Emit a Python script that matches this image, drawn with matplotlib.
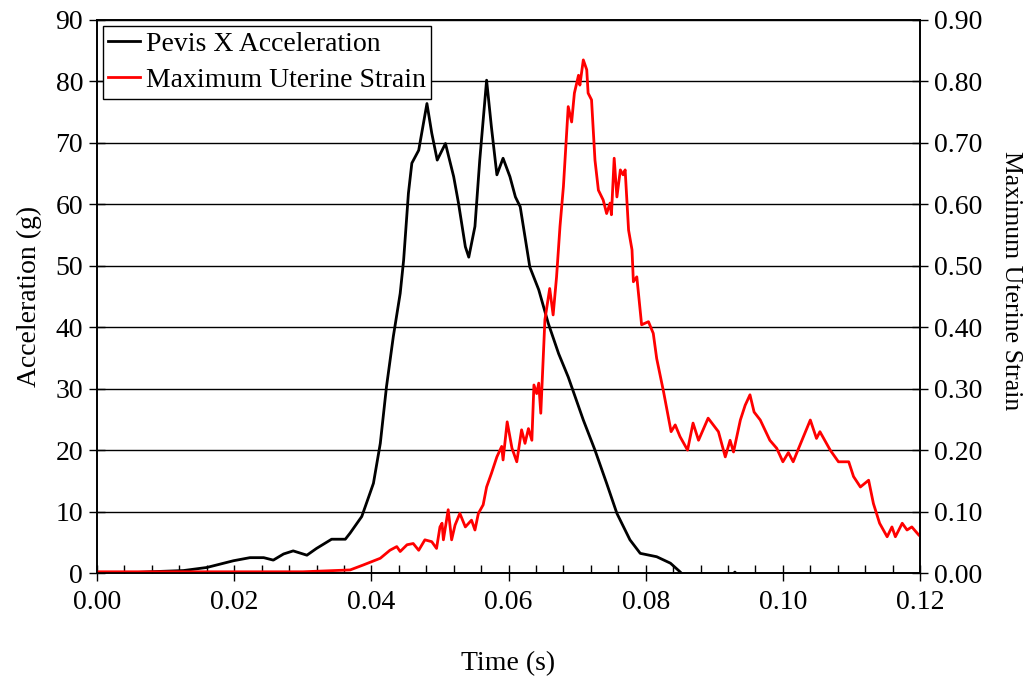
import matplotlib
matplotlib.use("Agg")
import matplotlib.pyplot as plt
from matplotlib.ticker import MultipleLocator, FormatStrFormatter

plt.rcParams['font.family'] = ['Liberation Serif', 'DejaVu Serif']

# Pelvis X acceleration (g) vs time (s)
accel_t = [0.0, 0.006, 0.0077, 0.0126, 0.016, 0.0199, 0.0223, 0.0243, 0.0257, 0.0272,
           0.0286, 0.0306, 0.0320, 0.0342, 0.0362, 0.0369, 0.0386, 0.0398, 0.0403, 0.0413,
           0.0422, 0.0432, 0.0442, 0.0447, 0.0454, 0.0459, 0.0469, 0.0481, 0.0488, 0.0496,
           0.0508, 0.0520, 0.0527, 0.0537, 0.0542, 0.0551, 0.0558, 0.0568, 0.0575, 0.0583,
           0.0592, 0.0602, 0.0610, 0.0617, 0.0631, 0.0644, 0.0658, 0.0673, 0.0687, 0.0709,
           0.0726, 0.0743, 0.0758, 0.0777, 0.0792, 0.0816, 0.0836, 0.0850, 0.0856, 0.0925,
           0.0930, 0.0935, 0.1200]
accel_g = [0.1, 0.1, 0.2, 0.4, 0.9, 2.0, 2.5, 2.5, 2.1, 3.1,
           3.6, 2.9, 4.0, 5.5, 5.5, 6.5, 9.2, 13.0, 14.6, 21.1,
           30.3, 38.5, 45.5, 50.9, 61.8, 66.7, 68.8, 76.4, 71.6, 67.2,
           69.9, 64.5, 60.2, 53.1, 51.4, 56.4, 67.2, 80.2, 72.6, 64.8,
           67.5, 64.5, 61.2, 59.6, 49.8, 46.1, 40.6, 35.7, 31.9, 24.9,
           20.0, 14.6, 9.7, 5.4, 3.2, 2.65, 1.6, 0.2, -0.5, -0.5,
           0.15, -0.5, -0.5]

# Maximum uterine strain vs time (s)
strain_t = [0.0, 0.030, 0.0369, 0.0388, 0.0413, 0.0427, 0.0437, 0.0442, 0.0452, 0.0461,
            0.0469, 0.0478, 0.0488, 0.0495, 0.0500, 0.0503, 0.0505, 0.0512, 0.0517, 0.0522,
            0.0529, 0.0537, 0.0546, 0.0551, 0.0556, 0.0563, 0.0568, 0.0575, 0.0583, 0.0590,
            0.0592, 0.0598, 0.0605, 0.0612, 0.0619, 0.0624, 0.0629, 0.0634, 0.0637, 0.0641,
            0.0644, 0.0647, 0.0653, 0.0660, 0.0665, 0.0670, 0.0675, 0.0680, 0.0687, 0.0692,
            0.0696, 0.0702, 0.0704, 0.0709, 0.0714, 0.0716, 0.0721, 0.0726, 0.0731, 0.0738,
            0.0743, 0.0748, 0.0750, 0.0754, 0.0758, 0.0763, 0.0767, 0.0770, 0.0775, 0.0780,
            0.0782, 0.0787, 0.0794, 0.0804, 0.0811, 0.0816, 0.0826, 0.0837, 0.0843, 0.0850,
            0.0861, 0.0869, 0.0877, 0.0891, 0.0906, 0.0916, 0.0923, 0.0928, 0.0938, 0.0945,
            0.0952, 0.0958, 0.0967, 0.0981, 0.0991, 0.1000, 0.1008, 0.1015, 0.1023, 0.1030,
            0.1040, 0.1049, 0.1054, 0.1069, 0.1081, 0.1096, 0.1103, 0.1113, 0.1125, 0.1132,
            0.1141, 0.1152, 0.1159, 0.1164, 0.1174, 0.1181, 0.1188, 0.1198, 0.1200]
strain = [0.002, 0.002, 0.005, 0.013, 0.024, 0.037, 0.043, 0.035, 0.046, 0.048,
          0.037, 0.054, 0.051, 0.040, 0.075, 0.081, 0.054, 0.103, 0.054, 0.078,
          0.097, 0.075, 0.086, 0.070, 0.097, 0.111, 0.140, 0.162, 0.189, 0.206,
          0.184, 0.246, 0.203, 0.181, 0.233, 0.211, 0.235, 0.216, 0.306, 0.292,
          0.309, 0.260, 0.412, 0.463, 0.420, 0.482, 0.564, 0.629, 0.759, 0.734,
          0.781, 0.810, 0.794, 0.835, 0.819, 0.781, 0.770, 0.672, 0.623, 0.607,
          0.585, 0.602, 0.583, 0.675, 0.612, 0.656, 0.648, 0.656, 0.558, 0.526,
          0.474, 0.482, 0.404, 0.409, 0.390, 0.349, 0.295, 0.230, 0.241, 0.222,
          0.200, 0.244, 0.216, 0.252, 0.230, 0.189, 0.216, 0.197, 0.249, 0.273,
          0.290, 0.262, 0.249, 0.216, 0.203, 0.181, 0.196, 0.181, 0.203, 0.222,
          0.249, 0.219, 0.230, 0.200, 0.181, 0.181, 0.157, 0.140, 0.151, 0.113,
          0.081, 0.059, 0.075, 0.059, 0.081, 0.070, 0.075, 0.062, 0.060]

fig = plt.figure(figsize=(10.28, 6.77), dpi=100)
ax = fig.add_axes([0.0944, 0.1536, 0.8006, 0.8169])
ax2 = ax.twinx()

fs = 20
line_acc, = ax.plot(accel_t, accel_g, color='black', lw=2.0, label='Pevis X Acceleration')
line_str, = ax2.plot(strain_t, strain, color='#ff0000', lw=2.0, label='Maximum Uterine Strain')

ax.set_xlim(0, 0.12)
ax.set_ylim(0, 90)
ax2.set_ylim(0, 0.9)

ax.xaxis.set_major_locator(MultipleLocator(0.02))
ax.xaxis.set_minor_locator(MultipleLocator(0.004))
ax.xaxis.set_major_formatter(FormatStrFormatter('%.2f'))
ax.yaxis.set_major_locator(MultipleLocator(10))
ax2.yaxis.set_major_locator(MultipleLocator(0.1))
ax2.yaxis.set_major_formatter(FormatStrFormatter('%.2f'))

ax.grid(axis='y', color='black', lw=1.0)
ax.set_axisbelow(True)

ax.tick_params(axis='x', which='major', direction='inout', length=12, width=1, labelsize=fs, pad=6)
ax.tick_params(axis='x', which='minor', direction='in', length=6, width=1)
ax.tick_params(axis='y', which='major', direction='inout', length=12, width=1, labelsize=fs, pad=4)
ax2.tick_params(axis='y', which='major', direction='inout', length=12, width=1, labelsize=fs, pad=4)

for a in (ax, ax2):
    for s in a.spines.values():
        s.set_color('black')
        s.set_linewidth(1.2)

ax.set_xlabel('Time (s)', fontsize=fs, labelpad=26)
ax.set_ylabel('Acceleration (g)', fontsize=fs, labelpad=10)
ax2.set_ylabel('Maximum Uterine Strain', fontsize=18.5, rotation=270,
               va='center', ha='center', rotation_mode='anchor')
ax2.yaxis.set_label_coords(1.111, 0.528)

leg = ax2.legend(handles=[line_acc, line_str], loc='upper left', fontsize=fs,
                 frameon=True, fancybox=False, framealpha=1, edgecolor='black',
                 borderpad=0.2, labelspacing=0.4, handlelength=1.15, handletextpad=0.2,
                 borderaxespad=0.2)
leg.get_frame().set_linewidth(1.0)

fig.savefig('out.png', dpi=100)
